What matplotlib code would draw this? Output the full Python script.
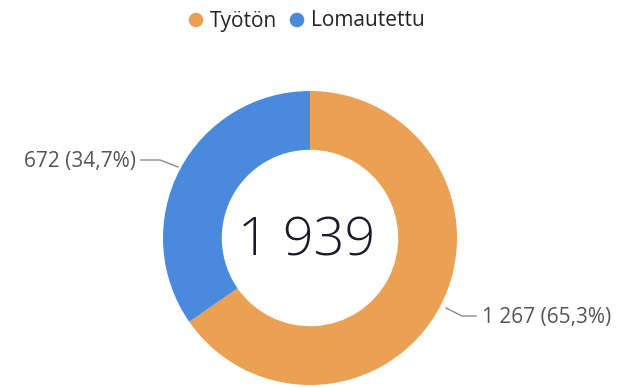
import matplotlib.pyplot as plt

# Työttömät ja lomautetut
categories = ['Työtön', 'Lomautettu']
values = [1267, 672]
colors = ['#EBA153', '#4A8ADC']

total = sum(values)
shares = [v / total * 100 for v in values]


def fmt(n):
    return f'{n:,}'.replace(',', ' ')


plt.rcParams['font.family'] = ['Open Sans', 'DejaVu Sans']

W, H = 621, 387
fig = plt.figure(figsize=(W / 100, H / 100), dpi=100)
ax = fig.add_axes([0, 0, 1, 1])

cx, cy, r = 310, H - 238, 147
ax.pie(values, colors=colors, startangle=90, counterclock=False,
       center=(cx, cy), radius=r, frame=True,
       wedgeprops=dict(width=r * 0.40, edgecolor='none'))
ax.set_xlim(0, W)
ax.set_ylim(0, H)
ax.set_aspect('equal')
ax.axis('off')

ax.text(cx - 3, cy - 4, fmt(total), ha='center', va='center',
        fontsize=39, fontweight='light', color='#1B1B2B')

# selitteet
lab_color = '#555555'
ax.plot([141, 160, 178], [H - 160, H - 160, H - 167], color='#8a8a8a', lw=1)
ax.text(136, H - 161, f'{fmt(values[1])} ({shares[1]:.1f}%)'.replace('.', ','),
        ha='right', va='center', fontsize=15, color=lab_color)
ax.plot([446, 462, 476], [H - 308, H - 316, H - 316], color='#8a8a8a', lw=1)
ax.text(482, H - 317, f'{fmt(values[0])} ({shares[0]:.1f}%)'.replace('.', ','),
        ha='left', va='center', fontsize=15, color=lab_color)

# legenda
lx = [196, 297]
for x, c, name in zip(lx, colors, categories):
    ax.scatter([x], [H - 20], s=110, color=c, edgecolor='none')
    ax.text(x + 14, H - 21, name, ha='left', va='center',
            fontsize=15, color='#252423')

fig.savefig('out.png', dpi=100)
